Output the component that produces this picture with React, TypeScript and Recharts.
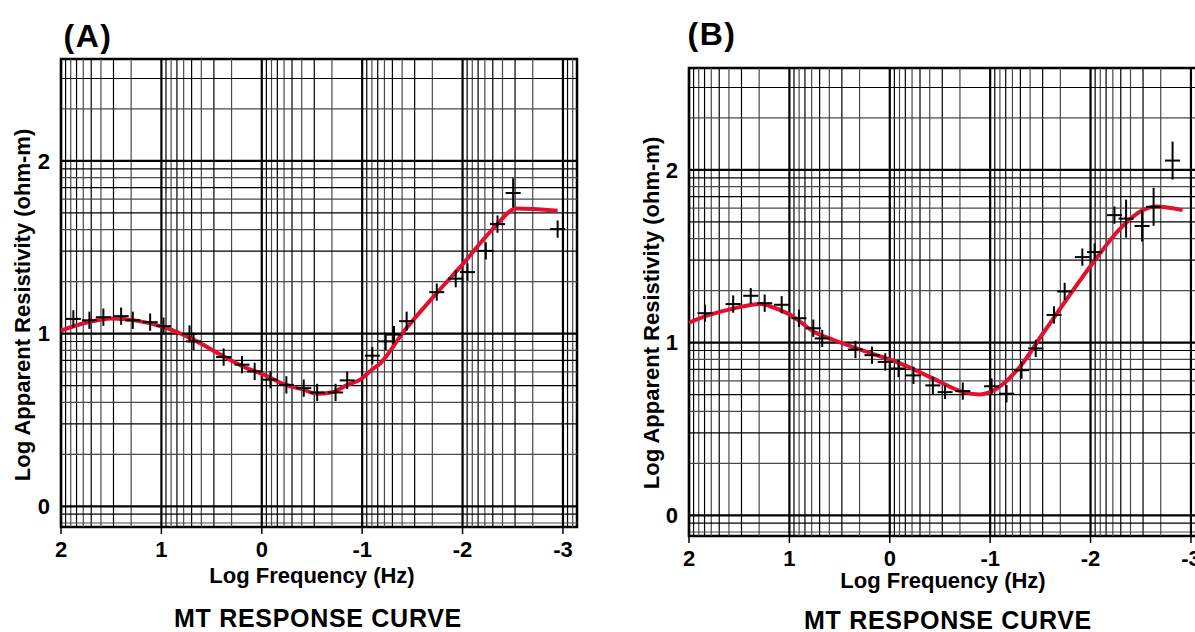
import React from 'react'
import {
  ComposedChart,
  Line,
  Scatter,
  ErrorBar,
  XAxis,
  YAxis,
  ReferenceLine,
  ReferenceArea,
} from 'recharts'

/* ── Data ────────────────────────────────────────────────── */

const freqTicks = [2, 1, 0, -1, -2, -3]
const rhoTicks = [0, 1, 2]

// (A) observed log frequency / log apparent resistivity / error
const freqA = [
  1.877, 1.717, 1.578, 1.401, 1.285, 1.112, 0.979, 0.72, 0.68, 0.38, 0.197, 0.071, -0.086,
  -0.245, -0.418, -0.552, -0.735, -0.851, -1.101, -1.234, -1.317, -1.443, -1.743, -1.932,
  -2.049, -2.232, -2.348, -2.504, -2.947,
]
const rhoA = [
  1.085, 1.077, 1.095, 1.101, 1.077, 1.066, 1.043, 0.998, 0.955, 0.864, 0.82, 0.781, 0.733,
  0.703, 0.684, 0.659, 0.659, 0.729, 0.872, 0.955, 0.994, 1.072, 1.24, 1.318, 1.356, 1.479,
  1.634, 1.814, 1.605,
]
const errA = [
  0.05, 0.05, 0.05, 0.05, 0.05, 0.05, 0.05, 0.05, 0.05, 0.05, 0.05, 0.05, 0.05, 0.05, 0.05,
  0.05, 0.05, 0.05, 0.05, 0.05, 0.05, 0.055, 0.05, 0.05, 0.05, 0.05, 0.05, 0.085, 0.05,
]

// (A) model curve
const curveFreqA = [
  2.0, 1.744, 1.494, 1.25, 0.979, 0.68, 0.38, 0.18, -0.02, -0.2, -0.418, -0.552, -0.7, -0.851,
  -0.984, -1.084, -1.184, -1.416, -1.716, -2.015, -2.314, -2.538, -2.947,
]
const curveRhoA = [
  1.017, 1.064, 1.087, 1.075, 1.039, 0.965, 0.868, 0.808, 0.762, 0.712, 0.674, 0.651, 0.66,
  0.703, 0.735, 0.785, 0.83, 1.013, 1.217, 1.411, 1.614, 1.725, 1.711,
]

// (B) observed
const freqB = [
  1.841, 1.56, 1.385, 1.246, 1.077, 0.905, 0.762, 0.673, 0.342, 0.177, 0.045, -0.087, -0.236,
  -0.429, -0.551, -0.727, -1.014, -1.163, -1.312, -1.454, -1.636, -1.742, -1.918, -2.04,
  -2.238, -2.354, -2.513, -2.628, -2.817,
]
const rhoB = [
  1.17, 1.223, 1.271, 1.228, 1.219, 1.141, 1.083, 1.024, 0.96, 0.927, 0.888, 0.85, 0.81, 0.752,
  0.713, 0.719, 0.747, 0.704, 0.84, 0.966, 1.16, 1.296, 1.495, 1.524, 1.738, 1.718, 1.675,
  1.786, 2.054,
]
const errB = [
  0.05, 0.05, 0.045, 0.05, 0.05, 0.05, 0.05, 0.05, 0.05, 0.05, 0.05, 0.05, 0.05, 0.05, 0.04,
  0.05, 0.045, 0.05, 0.05, 0.05, 0.05, 0.05, 0.05, 0.05, 0.05, 0.11, 0.09, 0.11, 0.11,
]

// (B) model curve
const curveFreqB = [
  2.0, 1.8, 1.583, 1.285, 1.186, 0.988, 0.756, 0.558, 0.226, -0.104, -0.435, -0.733, -0.898,
  -1.063, -1.295, -1.527, -1.759, -2.024, -2.288, -2.52, -2.652, -2.917,
]
const curveRhoB = [
  1.115, 1.16, 1.194, 1.224, 1.209, 1.16, 1.063, 1.015, 0.946, 0.879, 0.791, 0.713, 0.7, 0.733,
  0.859, 1.054, 1.248, 1.462, 1.656, 1.767, 1.788, 1.767,
]

/* ── Layout ──────────────────────────────────────────────── */

const X_DOMAIN: [number, number] = [-3.14, 2]
const Y_DOMAIN: [number, number] = [-0.12, 2.59]
const CROSS_HALF_WIDTH = 0.075
const FONT = '"Liberation Sans", Arial, Helvetica, sans-serif'
const RED = '#e2102e'

// log-paper grid lines
function logLines(from: number, to: number, lo: number, hi: number) {
  const out: { v: number; dark: boolean }[] = []
  for (let n = from; n <= to; n++) {
    for (let k = 2; k <= 9; k++) {
      const v = n + Math.log10(k)
      if (v > lo && v < hi) out.push({ v, dark: k % 2 === 1 })
    }
  }
  return out
}
const minorX = logLines(-4, 1, X_DOMAIN[0], X_DOMAIN[1])
const minorY = logLines(-1, 2, Y_DOMAIN[0], Y_DOMAIN[1])

const tickStyle = { fill: '#000', fontSize: 22, fontWeight: 700, fontFamily: FONT }

interface PanelProps {
  freq: number[]
  rho: number[]
  err: number[]
  curveFreq: number[]
  curveRho: number[]
  top: number
  bottom: number
}

function MTPanel({ freq, rho, err, curveFreq, curveRho, top, bottom }: PanelProps) {
  const obs = freq.map((f, i) => ({ freq: f, rho: rho[i], ey: err[i], ex: CROSS_HALF_WIDTH }))
  const curve = curveFreq.map((f, i) => ({ freq: f, rho: curveRho[i] }))

  return (
    <ComposedChart
      width={600}
      height={632}
      margin={{ top, right: 23, bottom, left: 0 }}
    >
      <XAxis
        type="number"
        dataKey="freq"
        domain={X_DOMAIN}
        reversed
        allowDataOverflow
        ticks={freqTicks}
        interval={0}
        height={40}
        axisLine={false}
        tickSize={7}
        tickMargin={7}
        tickLine={{ stroke: '#000', strokeWidth: 1.5 }}
        tick={tickStyle}
      />
      <YAxis
        type="number"
        dataKey="rho"
        domain={Y_DOMAIN}
        allowDataOverflow
        ticks={rhoTicks}
        interval={0}
        width={61}
        axisLine={false}
        tickLine={false}
        tickSize={0}
        tickMargin={11}
        tick={tickStyle}
      />

      {minorX.map((l) => (
        <ReferenceLine
          key={`mx-${l.v}`}
          x={l.v}
          stroke={l.dark ? '#000' : '#4a4a4a'}
          strokeWidth={1.2}
        />
      ))}
      {minorY.map((l) => (
        <ReferenceLine
          key={`my-${l.v}`}
          y={l.v}
          stroke={l.dark ? '#000' : '#4a4a4a'}
          strokeWidth={1.2}
        />
      ))}
      {freqTicks.map((v) => (
        <ReferenceLine key={`MX-${v}`} x={v} stroke="#000" strokeWidth={2.2} />
      ))}
      {rhoTicks.map((v) => (
        <ReferenceLine key={`MY-${v}`} y={v} stroke="#000" strokeWidth={2.2} />
      ))}
      <ReferenceArea
        x1={X_DOMAIN[0]}
        x2={X_DOMAIN[1]}
        y1={Y_DOMAIN[0]}
        y2={Y_DOMAIN[1]}
        fill="none"
        fillOpacity={0}
        stroke="#000"
        strokeWidth={2.5}
      />

      <Line
        data={curve}
        dataKey="rho"
        type="monotone"
        stroke={RED}
        strokeWidth={4}
        dot={false}
        activeDot={false}
        isAnimationActive={false}
      />
      <Scatter data={obs} dataKey="rho" shape={() => <g />} isAnimationActive={false}>
        <ErrorBar dataKey="ey" direction="y" width={0} stroke="#000" strokeWidth={2} />
        <ErrorBar dataKey="ex" direction="x" width={0} stroke="#000" strokeWidth={2} />
      </Scatter>
    </ComposedChart>
  )
}

function Txt({
  x,
  y,
  size,
  children,
  rotate,
  spacing = 0,
}: {
  x: number
  y: number
  size: number
  children: React.ReactNode
  rotate?: boolean
  spacing?: number
}) {
  return (
    <div
      style={{
        position: 'absolute',
        left: x,
        top: y,
        fontSize: size,
        lineHeight: 1,
        fontWeight: 700,
        letterSpacing: spacing,
        whiteSpace: 'nowrap',
        transform: `translate(-50%, -50%)${rotate ? ' rotate(-90deg)' : ''}`,
      }}
    >
      {children}
    </div>
  )
}

export default function App() {
  return (
    <div
      style={{
        position: 'absolute',
        left: 0,
        top: 0,
        width: 1195,
        height: 632,
        overflow: 'hidden',
        background: '#fff',
        fontFamily: FONT,
        color: '#000',
      }}
    >
      <div style={{ position: 'absolute', left: 0, top: 0 }}>
        <MTPanel
          freq={freqA}
          rho={rhoA}
          err={errA}
          curveFreq={curveFreqA}
          curveRho={curveRhoA}
          top={59}
          bottom={65}
        />
      </div>
      <div style={{ position: 'absolute', left: 628, top: 0 }}>
        <MTPanel
          freq={freqB}
          rho={rhoB}
          err={errB}
          curveFreq={curveFreqB}
          curveRho={curveRhoB}
          top={68}
          bottom={56}
        />
      </div>

      <Txt x={88} y={36} size={32} spacing={1.5}>(A)</Txt>
      <Txt x={712} y={34} size={32} spacing={1.5}>(B)</Txt>

      <Txt x={23} y={305} size={22} rotate>Log Apparent Resistivity (ohm-m)</Txt>
      <Txt x={652} y={313} size={22} rotate>Log Apparent Resistivity (ohm-m)</Txt>

      <Txt x={312} y={576} size={22}>Log Frequency (Hz)</Txt>
      <Txt x={943} y={581} size={22}>Log Frequency (Hz)</Txt>

      <Txt x={318} y={618} size={25} spacing={0.7}>MT RESPONSE CURVE</Txt>
      <Txt x={948} y={620} size={25} spacing={0.7}>MT RESPONSE CURVE</Txt>
    </div>
  )
}
